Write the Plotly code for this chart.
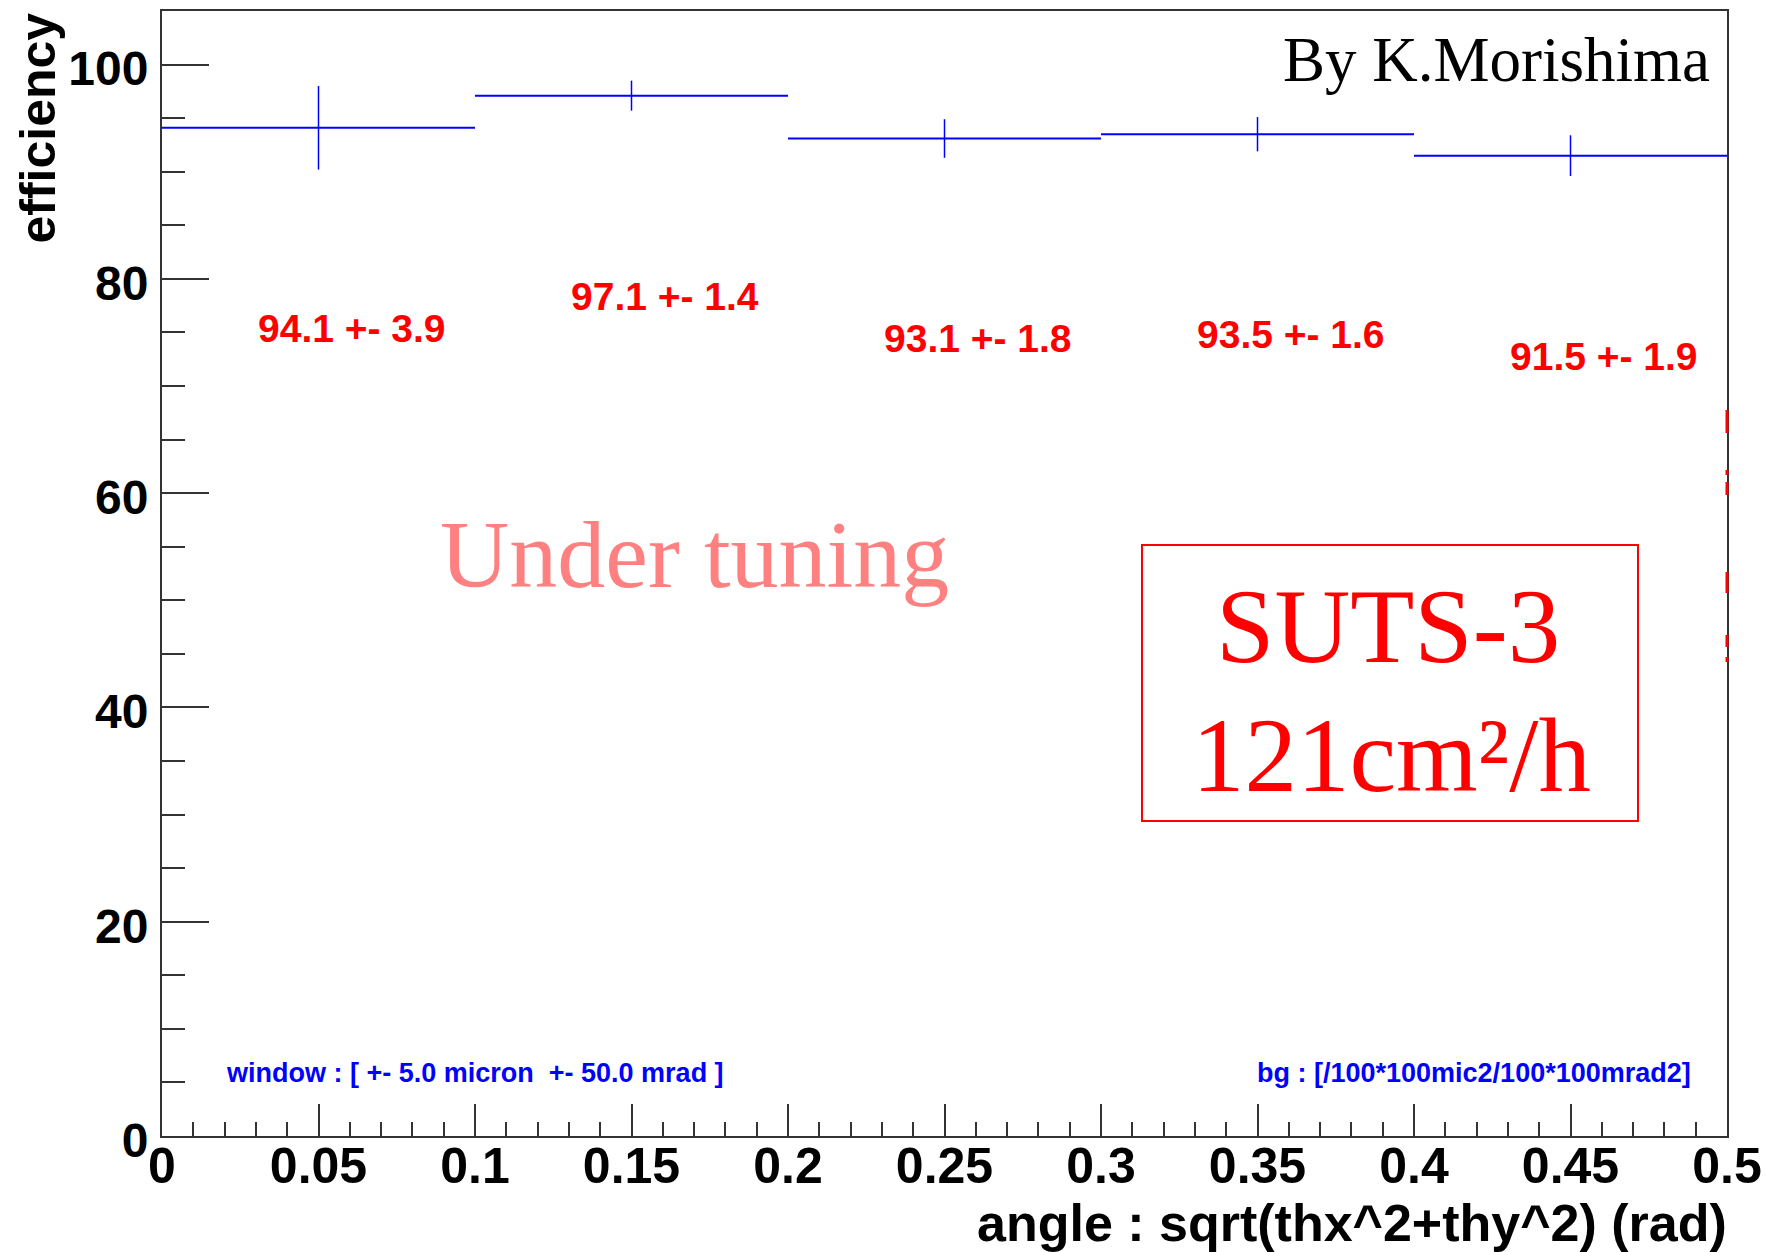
import plotly.graph_objects as go

# Efficiency per angular bin (ROOT-style histogram with errors)
bin_centers = [0.05, 0.15, 0.25, 0.35, 0.45]
bin_half_width = [0.05, 0.05, 0.05, 0.05, 0.05]
efficiency = [94.1, 97.1, 93.1, 93.5, 91.5]
eff_error = [3.9, 1.4, 1.8, 1.6, 1.9]

x_tick_vals = [0, 0.05, 0.1, 0.15, 0.2, 0.25, 0.3, 0.35, 0.4, 0.45, 0.5]
x_tick_text = ["0", "0.05", "0.1", "0.15", "0.2", "0.25", "0.3", "0.35", "0.4", "0.45", "0.5"]
y_tick_vals = [0, 20, 40, 60, 80, 100]
y_tick_text = ["0", "20", "40", "60", "80", "100"]

W, H = 1765, 1252
L, R, T, B = 162, 1727, 11, 1136

SANS = "Liberation Sans, Arial, Helvetica, sans-serif"
SERIF = "Liberation Serif, Times New Roman, serif"
FRAME = "#333333"


def px_x(px):
    return (px - L) / (R - L)


def px_y(py):
    return (B - py) / (B - T)


fig = go.Figure()

fig.add_trace(go.Scatter(
    x=bin_centers,
    y=efficiency,
    mode="markers",
    marker=dict(size=0, opacity=0, color="#0000ff"),
    error_x=dict(type="data", array=bin_half_width, width=0, thickness=2, color="#0000ff"),
    error_y=dict(type="data", array=eff_error, width=0, thickness=1.5, color="#0000ff"),
    showlegend=False,
    hoverinfo="skip",
))

annotations = []

# value +- error labels under each bin
for c, hw, v, e in zip(bin_centers, bin_half_width, efficiency, eff_error):
    annotations.append(dict(
        x=c - hw + 0.03, y=v - 18.7, xref="x", yref="y",
        text=f"{v:.1f} +- {e:.1f}", showarrow=False,
        xanchor="left", yanchor="middle",
        font=dict(family=SANS, size=39, color="#ff0000", weight="bold"),
    ))

annotations += [
    dict(x=px_x(1712), y=px_y(60), xref="paper", yref="paper",
         text="By K.Morishima", showarrow=False, xanchor="right", yanchor="middle",
         font=dict(family=SERIF, size=63, color="#000000")),
    dict(x=px_x(438), y=px_y(554), xref="paper", yref="paper",
         text="Under tuning", showarrow=False, xanchor="left", yanchor="middle",
         font=dict(family=SERIF, size=96, color="#ff8080")),
    dict(x=px_x(1388), y=px_y(626), xref="paper", yref="paper",
         text="SUTS-3", showarrow=False,
         xanchor="center", yanchor="middle",
         font=dict(family=SERIF, size=105, color="#ff0000")),
    dict(x=px_x(1391), y=px_y(755), xref="paper", yref="paper",
         text="121cm²/h", showarrow=False,
         xanchor="center", yanchor="middle",
         font=dict(family=SERIF, size=105, color="#ff0000")),
    dict(x=px_x(224), y=px_y(1073), xref="paper", yref="paper",
         text="window : [ +- 5.0 micron  +- 50.0 mrad ]", showarrow=False,
         xanchor="left", yanchor="middle",
         font=dict(family=SANS, size=27, color="#0000ff", weight="bold")),
    dict(x=px_x(1693), y=px_y(1073), xref="paper", yref="paper",
         text="bg : [/100*100mic2/100*100mrad2]", showarrow=False,
         xanchor="right", yanchor="middle",
         font=dict(family=SANS, size=27, color="#0000ff", weight="bold")),
    dict(x=px_x(1729), y=px_y(1223), xref="paper", yref="paper",
         text="angle : sqrt(thx^2+thy^2) (rad)", showarrow=False,
         xanchor="right", yanchor="middle",
         font=dict(family=SANS, size=52, color="#000000", weight="bold")),
    dict(x=px_x(37), y=px_y(11), xref="paper", yref="paper",
         text="efficiency", showarrow=False, textangle=-90,
         xanchor="center", yanchor="top",
         font=dict(family=SANS, size=50, color="#000000", weight="bold")),
]

shapes = [
    # framed label box
    dict(type="rect", xref="paper", yref="paper",
         x0=px_x(1142), x1=px_x(1638), y0=px_y(821), y1=px_y(545),
         line=dict(color="#ff0000", width=2)),
]

# clipped red strokes along the right frame
for y0, y1 in [(410, 433), (470, 475), (482, 495), (572, 593), (635, 647), (657, 662)]:
    shapes.append(dict(type="line", xref="paper", yref="paper", layer="above",
                       x0=1, x1=1, y0=px_y(y1), y1=px_y(y0),
                       line=dict(color="#ff0000", width=3)))

fig.update_layout(
    width=W, height=H,
    margin=dict(l=L, r=W - R, t=T, b=H - B, pad=0, autoexpand=False),
    paper_bgcolor="white", plot_bgcolor="white",
    annotations=annotations, shapes=shapes,
    xaxis=dict(
        range=[0, 0.5], showgrid=False, zeroline=False, automargin=False,
        showline=True, linecolor=FRAME, linewidth=2, mirror=True,
        ticks="inside", ticklen=32, tickwidth=2, tickcolor=FRAME,
        tickvals=x_tick_vals, ticktext=x_tick_text,
        minor=dict(dtick=0.01, ticks="inside", ticklen=14, tickwidth=2, tickcolor=FRAME, showgrid=False),
        tickfont=dict(family=SANS, size=50, color="#000000", weight="bold"),
        ticklabelstandoff=-15,
    ),
    yaxis=dict(
        range=[0, 105], showgrid=False, zeroline=False, automargin=False,
        showline=True, linecolor=FRAME, linewidth=2, mirror=True,
        ticks="inside", ticklen=47, tickwidth=2, tickcolor=FRAME,
        tickvals=y_tick_vals, ticktext=y_tick_text,
        minor=dict(dtick=5, ticks="inside", ticklen=23, tickwidth=2, tickcolor=FRAME, showgrid=False),
        tickfont=dict(family=SANS, size=48, color="#000000", weight="bold"),
        ticklabelstandoff=2,
        ticklabelshift=4,
    ),
)

fig.write_html("out.html")
